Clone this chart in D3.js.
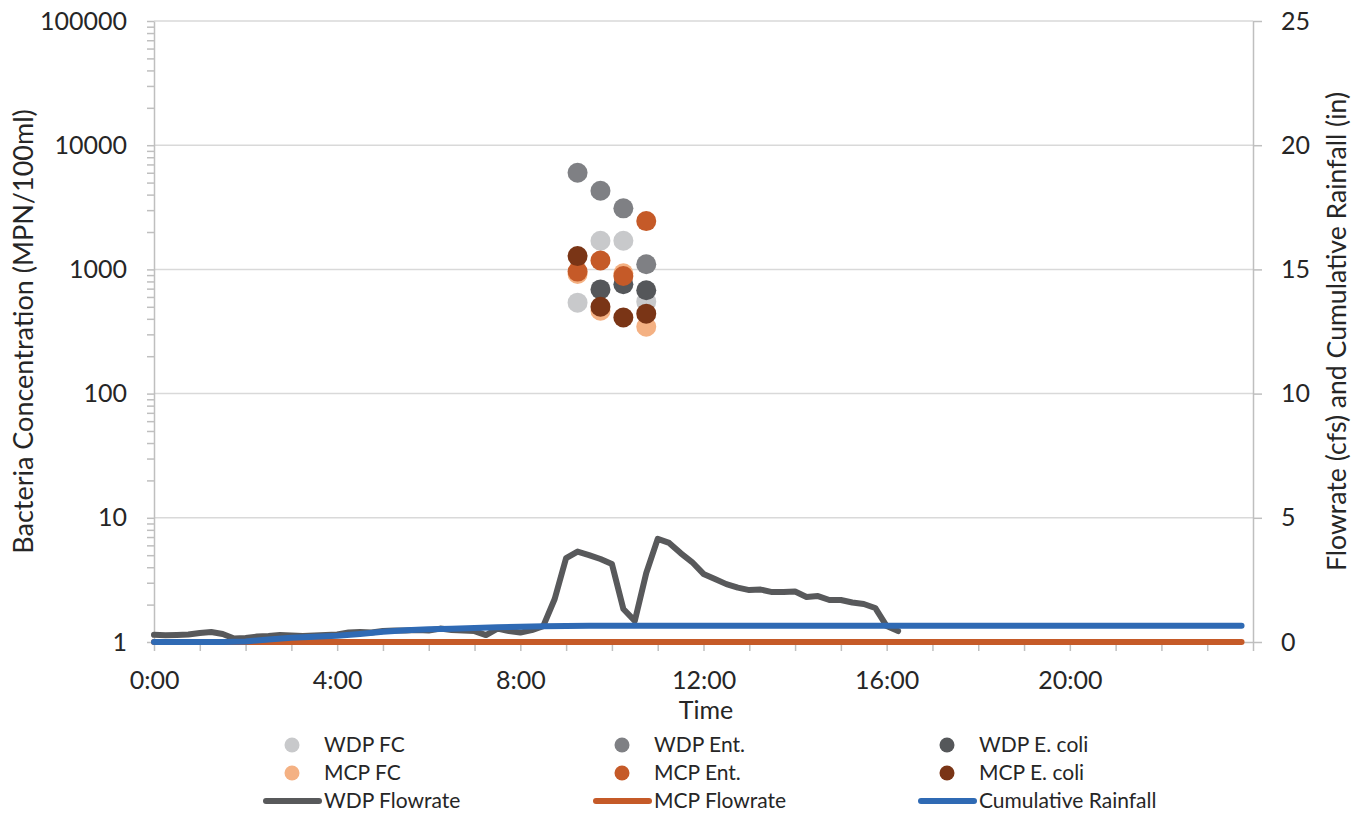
<!DOCTYPE html>
<html>
<head>
<meta charset="utf-8">
<script src="https://cdnjs.cloudflare.com/ajax/libs/d3/7.8.5/d3.min.js"></script>
<style>
  body { margin: 0; background: #fff; }
  text { font-family: Lato, "Open Sans", sans-serif; fill: #262626; }
</style>
</head>
<body>
<svg id="svg" width="1364" height="813"></svg>
<script>
// sample times for the bacteria grabs
let sampleTimes = ["9:15", "9:45", "10:15", "10:45"];
let wdpFC = [540, 1700, 1700, 550];
let wdpEnt = [6000, 4300, 3100, 1100];
let wdpEcoli = [null, 690, 760, 680];
let mcpFC = [920, 465, 930, 345];
let mcpEnt = [960, 1180, 885, 2450];
let mcpEcoli = [1280, 500, 410, 440];

// WDP flowrate, every 15 minutes from 0:00 to 16:15
let wdpFlowStart = "0:00";
let wdpFlow = [
  0.29, 0.27, 0.28, 0.30, 0.36, 0.40, 0.32, 0.14, 0.16, 0.22, 0.24, 0.28, 0.26, 0.24, 0.26, 0.28,
  0.30, 0.38, 0.40, 0.38, 0.44, 0.46, 0.46, 0.48, 0.46, 0.54, 0.48, 0.46, 0.44, 0.28, 0.54, 0.44,
  0.38, 0.48, 0.64, 1.73, 3.38, 3.64, 3.50, 3.34, 3.14, 1.33, 0.85, 2.78, 4.15, 3.99, 3.58, 3.22,
  2.74, 2.54, 2.33, 2.19, 2.09, 2.11, 2.01, 2.01, 2.03, 1.81, 1.85, 1.69, 1.69, 1.59, 1.53, 1.37,
  0.64, 0.44
];

let mcpFlowTimes = ["0:00", "4:00", "8:00", "12:00", "16:00", "20:00", "23:45"];
let mcpFlow = [0, 0, 0, 0, 0, 0, 0];

let rainTimes = ["0:00", "0:30", "1:00", "1:30", "2:00", "2:30", "3:00", "3:30", "4:00", "4:30",
  "5:00", "5:30", "6:00", "6:30", "7:00", "7:30", "8:00", "8:30", "9:00", "9:30", "10:00", "23:45"];
let rainfall = [0, 0, 0, 0, 0.02, 0.10, 0.17, 0.21, 0.25, 0.32,
  0.41, 0.47, 0.51, 0.53, 0.56, 0.59, 0.61, 0.63, 0.645, 0.65, 0.655, 0.655];

let leftTicks = [1, 10, 100, 1000, 10000, 100000];
let rightTicks = [0, 5, 10, 15, 20, 25];

let day0 = new Date(2000, 0, 1, 0, 0);
let day1 = new Date(2000, 0, 2, 0, 0);

const toDate = function(str) {
  let parts = str.split(":");
  return new Date(2000, 0, 1, +parts[0], +parts[1]);
}

let svg = d3.select("#svg");
let plotLeft = 154, plotRight = 1253, plotTop = 21, plotBottom = 642;

let x = d3.scaleTime().domain([day0, day1]).range([plotLeft, plotRight]);
let yL = d3.scaleLog().domain([1, 100000]).range([plotBottom, plotTop]);
let yR = d3.scaleLinear().domain([0, 25]).range([plotBottom, plotTop]);

// gridlines
svg.append("g")
  .selectAll("line")
  .data(leftTicks.slice(1))
  .enter()
  .append("line")
  .attr("x1", plotLeft)
  .attr("x2", plotRight)
  .attr("y1", d => yL(d))
  .attr("y2", d => yL(d))
  .attr("stroke", "#d9d9d9")
  .attr("stroke-width", 1.5);

// left log axis with minor ticks
let minorTicks = [];
leftTicks.slice(0, -1).forEach(dec => {
  for (let m = 1; m < 10; m++) minorTicks.push(dec * m);
});
minorTicks.push(100000);

let axisStyle = function(g) {
  g.select(".domain").attr("stroke", "#bfbfbf").attr("stroke-width", 1.5);
  g.selectAll(".tick line").attr("stroke", "#bfbfbf").attr("stroke-width", 1.5);
  g.selectAll(".tick text").attr("font-size", 25).attr("fill", "#262626")
    .style("font-family", "Lato, sans-serif");
}

svg.append("g")
  .attr("transform", "translate(" + plotLeft + ",0)")
  .call(d3.axisLeft(yL)
    .tickValues(minorTicks)
    .tickSize(7)
    .tickSizeOuter(0)
    .tickPadding(20)
    .tickFormat(d => leftTicks.includes(d) ? String(d) : ""))
  .call(axisStyle);

svg.append("g")
  .attr("transform", "translate(" + plotRight + ",0)")
  .call(d3.axisRight(yR)
    .tickValues(rightTicks)
    .tickSize(9)
    .tickSizeOuter(0)
    .tickPadding(19))
  .call(axisStyle);

svg.append("g")
  .attr("transform", "translate(0," + plotBottom + ")")
  .call(d3.axisBottom(x)
    .ticks(d3.timeHour.every(1))
    .tickSize(9)
    .tickSizeOuter(0)
    .tickPadding(20)
    .tickFormat(d => (d.getHours() % 4 == 0 && d < day1) ? d3.timeFormat("%-H:%M")(d) : ""))
  .call(axisStyle);

// axis titles
svg.append("text")
  .attr("transform", "translate(33," + (plotTop + plotBottom) / 2 + ") rotate(-90)")
  .attr("text-anchor", "middle")
  .attr("font-size", 27)
  .text("Bacteria Concentration (MPN/100ml)");

svg.append("text")
  .attr("transform", "translate(1346," + (plotTop + plotBottom) / 2 + ") rotate(-90)")
  .attr("text-anchor", "middle")
  .attr("font-size", 26.6)
  .text("Flowrate (cfs) and Cumulative Rainfall (in)");

svg.append("text")
  .attr("x", 706)
  .attr("y", 719)
  .attr("text-anchor", "middle")
  .attr("font-size", 25)
  .text("Time");

// lines
let lineSeries = [
  { name: "WDP Flowrate", color: "#58595b",
    data: wdpFlow.map((v, i) => ({ date: d3.timeMinute.offset(toDate(wdpFlowStart), i * 15), value: v })) },
  { name: "MCP Flowrate", color: "#c55a28",
    data: mcpFlow.map((v, i) => ({ date: toDate(mcpFlowTimes[i]), value: v })) },
  { name: "Cumulative Rainfall", color: "#2f6ab4",
    data: rainfall.map((v, i) => ({ date: toDate(rainTimes[i]), value: v })) }
];

let line = d3.line()
  .x(d => x(d.date))
  .y(d => yR(d.value));

lineSeries.forEach(s => {
  svg.append("path")
    .datum(s.data)
    .attr("fill", "none")
    .attr("stroke", s.color)
    .attr("stroke-width", 6)
    .attr("stroke-linejoin", "round")
    .attr("stroke-linecap", "round")
    .attr("d", line);
});

// scatter
let pointSeries = [
  { name: "WDP FC", color: "#c8c9cb", values: wdpFC },
  { name: "WDP Ent.", color: "#7f8084", values: wdpEnt },
  { name: "WDP E. coli", color: "#55575a", values: wdpEcoli },
  { name: "MCP FC", color: "#f4b183", values: mcpFC },
  { name: "MCP Ent.", color: "#c55a28", values: mcpEnt },
  { name: "MCP E. coli", color: "#7a3516", values: mcpEcoli }
];

pointSeries.forEach(s => {
  svg.append("g")
    .selectAll("circle")
    .data(s.values.map((v, i) => ({ date: toDate(sampleTimes[i]), value: v })).filter(d => d.value != null))
    .enter()
    .append("circle")
    .attr("cx", d => x(d.date))
    .attr("cy", d => yL(d.value))
    .attr("r", 10)
    .attr("fill", s.color);
});

// legend, 3 columns x 3 rows
let legendCols = [292, 622, 947];
let legendRows = [745, 773, 801];
let legend = svg.append("g");

pointSeries.forEach((s, i) => {
  let cx = legendCols[i % 3], cy = legendRows[Math.floor(i / 3)];
  legend.append("circle")
    .attr("cx", cx)
    .attr("cy", cy)
    .attr("r", 7.5)
    .attr("fill", s.color);
  legend.append("text")
    .attr("x", cx + 32)
    .attr("y", cy)
    .attr("dy", "0.35em")
    .attr("font-size", 21)
    .text(s.name);
});

lineSeries.forEach((s, i) => {
  let cx = legendCols[i], cy = legendRows[2];
  legend.append("line")
    .attr("x1", cx - 26)
    .attr("x2", cx + 27)
    .attr("y1", cy)
    .attr("y2", cy)
    .attr("stroke", s.color)
    .attr("stroke-width", 6)
    .attr("stroke-linecap", "round");
  legend.append("text")
    .attr("x", cx + 32)
    .attr("y", cy)
    .attr("dy", "0.35em")
    .attr("font-size", 21)
    .text(s.name);
});
</script>
</body>
</html>
